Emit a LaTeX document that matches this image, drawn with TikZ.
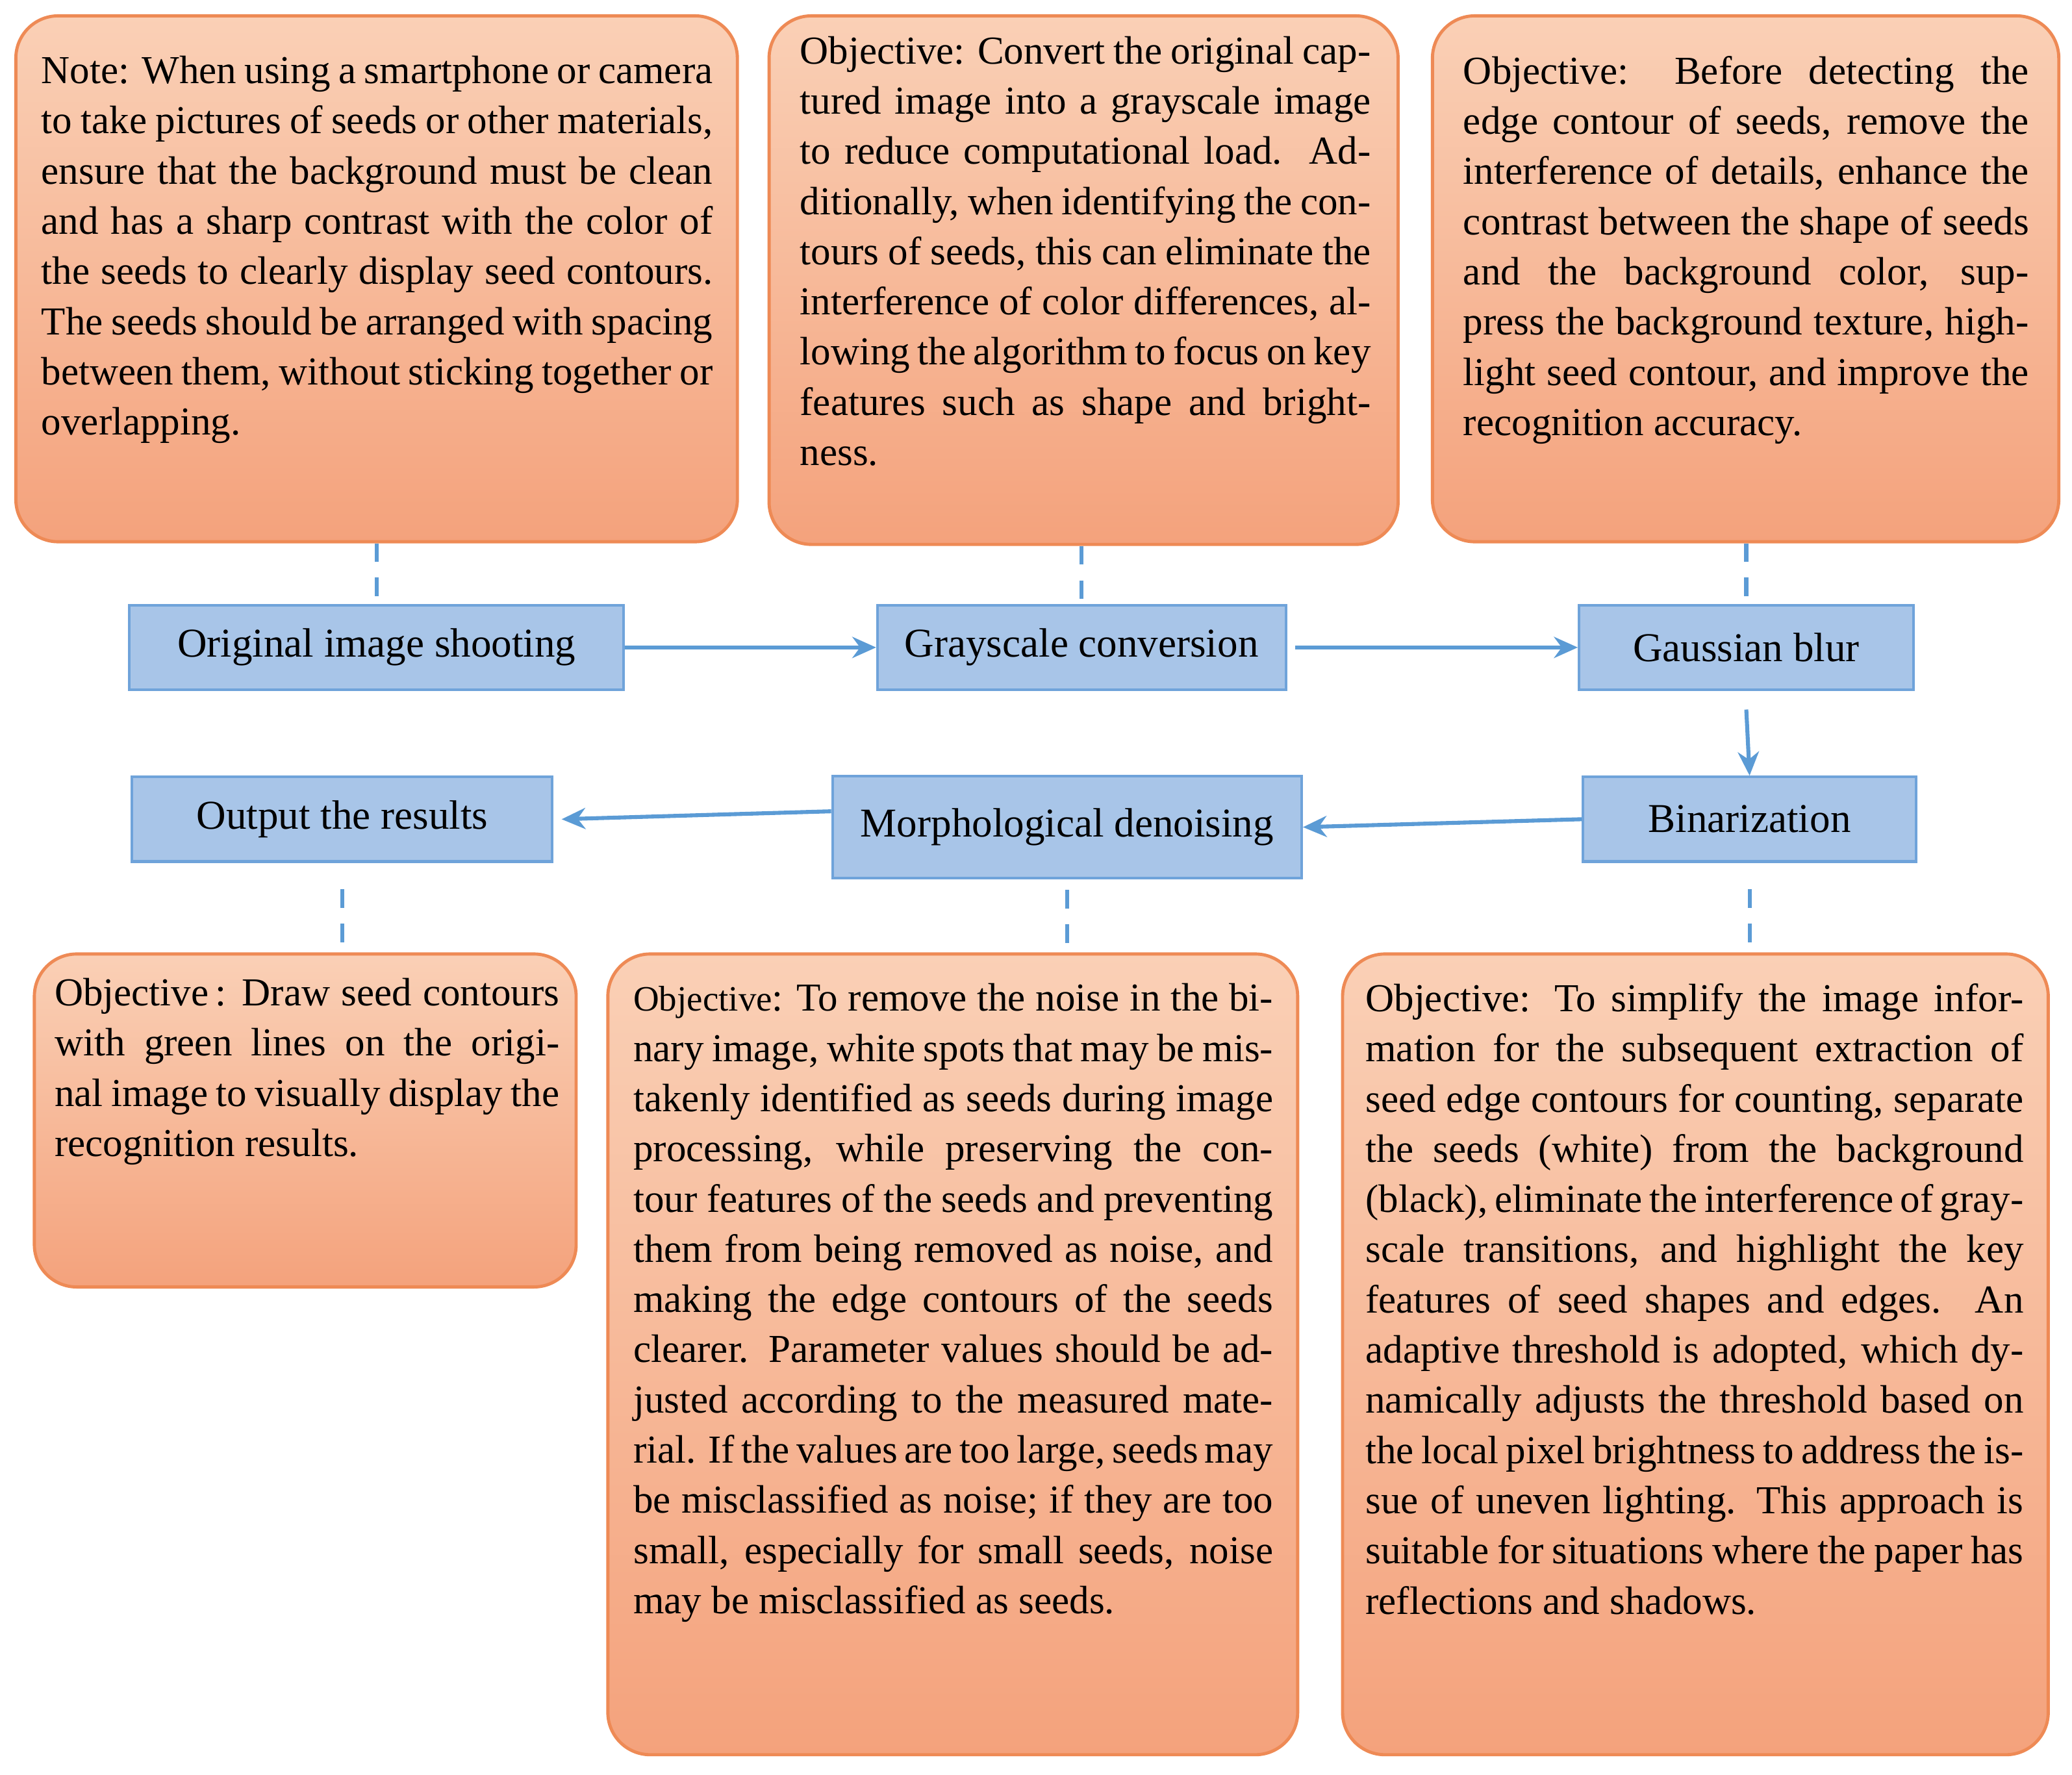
\documentclass[tikz,border=0pt]{standalone}
\usepackage{fontspec}
\setmainfont{Liberation Serif}
\usetikzlibrary{arrows.meta}
\definecolor{obord}{HTML}{EE8A55}
\definecolor{otop}{HTML}{FAD0B6}
\definecolor{obot}{HTML}{F4A27C}
\definecolor{bfill}{HTML}{A8C5E8}
\definecolor{bbord}{HTML}{6FA3DA}
\definecolor{arr}{HTML}{5B9BD5}
\begin{document}
\begin{tikzpicture}[x=0.5pt,y=-0.5pt,
 obox/.style={draw=obord,line width=1.2pt,rounded corners=16pt,top color=otop,bottom color=obot,inner sep=0pt},
 otxt/.style={anchor=north west,align=justify,inner sep=0pt,font=\fontsize{15}{19}\selectfont},
 stepbox/.style={draw=bbord,line width=1pt,fill=bfill,inner sep=0pt,font=\fontsize{15.5}{18}\selectfont},
 dashlink/.style={draw=arr,line width=1.5pt,dash pattern=on 7pt off 6pt},
 flow/.style={draw=arr,line width=1.5pt,-{Stealth[length=9pt,width=8pt]}}]
\useasboundingbox (0,0) rectangle (1568,1343);
% orange boxes
\node[obox,minimum width=273pt,minimum height=199pt] (b1) at (285,211) {};
\node[obox,minimum width=238pt,minimum height=200pt] (b2) at (820,212) {};
\node[obox,minimum width=237pt,minimum height=199pt] (b3) at (1321,211) {};
\node[obox,minimum width=205pt,minimum height=126pt] (b4) at (231,848) {};
\node[obox,minimum width=261pt,minimum height=303pt] (b5) at (721,1025) {};
\node[obox,minimum width=267pt,minimum height=303pt] (b6) at (1283,1025) {};
\node[otxt,text width=254pt] (t1) at (31,42) {Note: When using a smartphone or camera to take pictures of seeds or other materials, ensure that the background must be clean and has a sharp contrast with the color of the seeds to clearly display seed contours. The seeds should be arranged with spacing between them, without sticking together or overlapping.};
\node[otxt,text width=216pt] (t2) at (605,27) {Objective: Convert the original captured image into a grayscale image to reduce computational load.\ \ Additionally, when identifying the contours of seeds, this can eliminate the interference of color differences, allowing the algorithm to focus on key features such as shape and brightness.};
\node[otxt,text width=214pt] (t3) at (1107,42) {Objective: Before detecting the edge contour of seeds, remove the interference of details, enhance the contrast between the shape of seeds and the background color, suppress the background texture, highlight seed contour, and improve the recognition accuracy.};
\node[otxt,text width=191pt] (t4) at (41,740) {Objective\,: Draw seed contours with green lines on the original image to visually display the recognition results.};
\node[otxt,text width=242pt] (t5) at (479,744) {{\fontsize{13.5}{19}\selectfont Objective}: To remove the noise in the binary image, white spots that may be mistakenly identified as seeds during image processing, while preserving the contour features of the seeds and preventing them from being removed as noise, and making the edge contours of the seeds clearer. Parameter values should be adjusted according to the measured material. If the values are too large, seeds may be misclassified as noise; if they are too small, especially for small seeds, noise may be misclassified as seeds.};
\node[otxt,text width=249pt] (t6) at (1033,744) {Objective: To simplify the image information for the subsequent extraction of seed edge contours for counting, separate the seeds (white) from the background (black), eliminate the interference of gray-scale transitions, and highlight the key features of seed shapes and edges. An adaptive threshold is adopted, which dynamically adjusts the threshold based on the local pixel brightness to address the issue of uneven lighting. This approach is suitable for situations where the paper has reflections and shadows.};
% blue steps
\node[stepbox,minimum width=187pt,minimum height=32pt] (s1) at (285,490) {Original image shooting};
\node[stepbox,minimum width=154.5pt,minimum height=32pt] (s2) at (818.5,490) {Grayscale conversion};
\node[stepbox,minimum width=126.5pt,minimum height=32pt] (s3) at (1321.5,490) {Gaussian blur};
\node[stepbox,minimum width=159pt,minimum height=32pt] (s4) at (259,620) {Output the results};
\node[stepbox,minimum width=177.5pt,minimum height=38.5pt] (s5) at (807.5,626) {Morphological denoising};
\node[stepbox,minimum width=126pt,minimum height=32pt] (s6) at (1324,620) {Binarization};
% flow
\draw[flow] (s1.east) -- (s2.west);
\draw[flow] ([xshift=3pt]s2.east) -- (s3.west);
\draw[flow] ([yshift=-7pt]s3.south) -- (s6.north);
\draw[flow] (s6.west) -- (s5.east);
\draw[flow] ([yshift=6pt]s5.west) -- ([xshift=3pt]s4.east);
% dashed
\draw[dashlink] (b1.south -| s1.north) -- (s1.north);
\draw[dashlink] (b2.south -| s2.north) -- (s2.north);
\draw[dashlink] (b3.south -| s3.north) -- (s3.north);
\draw[dashlink] ([yshift=-10pt]s4.south) -- (s4.south |- b4.north);
\draw[dashlink] ([yshift=-4pt]s5.south) -- (s5.south |- b5.north);
\draw[dashlink] ([yshift=-10pt]s6.south) -- (s6.south |- b6.north);
\end{tikzpicture}
\end{document}
